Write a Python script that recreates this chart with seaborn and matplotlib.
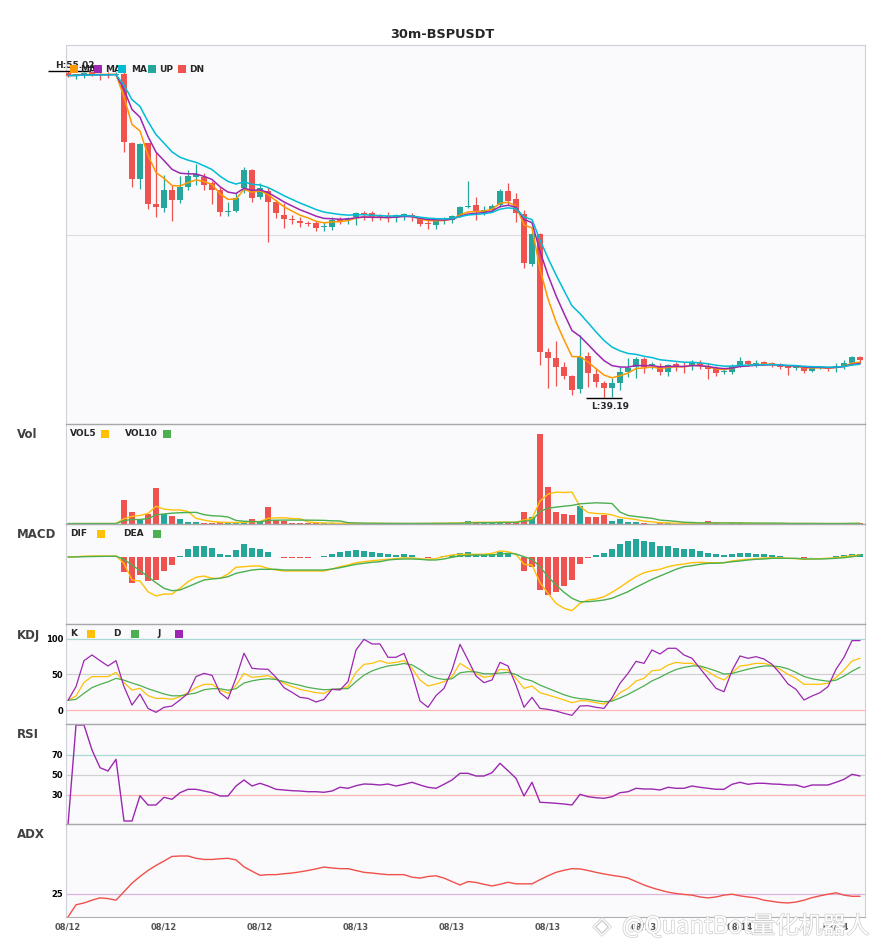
import numpy as np
import pandas as pd
import matplotlib
matplotlib.use("Agg")
import matplotlib.pyplot as plt
import matplotlib.patheffects as pe
from matplotlib.patches import Rectangle
import seaborn as sns

# ---- data (30m candles, 100 bars) ----
title = "30m-BSPUSDT"
xtick_labels = ["08/12", "08/12", "08/12", "08/13", "08/13", "08/13", "08/13", "08/14", "08/14"]
ma_spans = [5, 8, 12]

opens = [
    54.91, 54.82, 54.84, 54.99, 54.90, 54.90, 54.82, 54.88, 51.52, 49.81,
    51.52, 48.59, 48.41, 49.26, 48.78, 49.42, 49.91, 49.91, 49.59, 49.26,
    48.18, 48.26, 49.35, 50.23, 48.94, 49.23, 48.70, 48.05, 47.85, 47.76,
    47.66, 47.68, 47.48, 47.49, 47.86, 47.81, 47.97, 48.17, 48.17, 48.05,
    48.00, 47.92, 47.97, 48.05, 47.85, 47.66, 47.57, 47.77, 47.81, 48.00,
    48.44, 48.54, 48.17, 48.30, 48.54, 49.22, 48.83, 48.10, 45.68, 47.13,
    41.41, 41.12, 40.68, 40.26, 39.62, 41.23, 40.34, 39.91, 39.70, 39.91,
    40.47, 40.71, 41.07, 40.78, 40.76, 40.47, 40.82, 40.76, 40.74, 40.87,
    40.76, 40.63, 40.45, 40.47, 40.79, 40.99, 40.83, 40.95, 40.88, 40.79,
    40.74, 40.63, 40.71, 40.52, 40.66, 40.66, 40.66, 40.74, 40.87, 41.20]
highs = [
    55.02, 54.90, 54.95, 55.00, 54.92, 54.98, 54.95, 55.00, 51.60, 51.55,
    51.55, 51.12, 49.99, 49.51, 49.94, 50.23, 50.51, 50.07, 49.70, 49.42,
    48.70, 49.10, 50.36, 50.30, 49.59, 49.42, 48.80, 48.62, 48.05, 47.97,
    47.75, 47.75, 47.70, 47.94, 47.95, 47.94, 48.21, 48.24, 48.24, 48.10,
    48.21, 48.10, 48.13, 48.13, 47.97, 47.81, 47.86, 47.97, 48.05, 48.50,
    49.71, 48.94, 48.50, 48.59, 49.30, 49.62, 49.10, 48.30, 47.25, 47.20,
    41.60, 41.96, 40.95, 40.30, 42.25, 41.40, 40.66, 40.00, 40.15, 40.71,
    41.12, 41.20, 41.20, 40.95, 40.90, 40.85, 40.92, 40.92, 41.04, 41.04,
    40.87, 40.76, 40.60, 40.86, 41.20, 41.04, 41.04, 40.99, 40.95, 40.87,
    40.80, 40.80, 40.79, 40.70, 40.74, 40.72, 40.88, 41.04, 41.24, 41.22]
lows = [
    54.75, 54.64, 54.70, 54.80, 54.58, 54.70, 54.78, 51.12, 49.42, 49.30,
    48.33, 47.97, 48.18, 47.78, 48.62, 49.26, 49.50, 49.26, 48.57, 48.01,
    48.02, 48.20, 49.10, 48.70, 48.85, 46.76, 47.89, 47.41, 47.62, 47.46,
    47.51, 47.29, 47.30, 47.33, 47.60, 47.60, 47.57, 47.81, 47.78, 47.81,
    47.73, 47.73, 47.80, 47.75, 47.50, 47.38, 47.38, 47.64, 47.65, 47.95,
    48.38, 47.81, 48.05, 48.20, 48.44, 48.54, 47.73, 45.50, 45.58, 40.79,
    39.70, 39.78, 40.12, 39.34, 39.42, 39.71, 39.71, 39.19, 39.25, 39.58,
    40.23, 40.18, 40.40, 40.60, 40.30, 40.26, 40.50, 40.40, 40.55, 40.60,
    40.10, 40.26, 40.34, 40.37, 40.72, 40.76, 40.70, 40.80, 40.70, 40.60,
    40.31, 40.55, 40.42, 40.45, 40.60, 40.50, 40.47, 40.60, 40.80, 40.90]
closes = [
    54.80, 54.84, 54.91, 54.88, 54.84, 54.85, 54.88, 51.57, 49.78, 51.49,
    48.57, 48.46, 49.26, 48.78, 49.42, 49.94, 50.02, 49.51, 49.26, 48.18,
    48.26, 48.86, 50.23, 48.89, 49.35, 48.70, 48.14, 47.86, 47.83, 47.65,
    47.64, 47.44, 47.51, 47.81, 47.76, 47.89, 48.14, 48.09, 47.89, 47.94,
    47.89, 48.03, 48.09, 47.94, 47.62, 47.63, 47.76, 47.79, 48.00, 48.46,
    48.49, 48.25, 48.30, 48.49, 49.22, 48.75, 48.14, 45.75, 47.13, 41.44,
    41.12, 40.68, 40.26, 39.58, 41.20, 40.42, 39.96, 39.70, 39.91, 40.47,
    40.66, 41.07, 40.71, 40.80, 40.47, 40.79, 40.76, 40.70, 40.92, 40.74,
    40.59, 40.42, 40.49, 40.74, 40.99, 40.84, 40.90, 40.84, 40.85, 40.71,
    40.66, 40.71, 40.52, 40.63, 40.67, 40.60, 40.74, 40.87, 41.17, 41.04]
volumes = [
    0.4, 0.5, 0.4, 0.5, 0.6, 0.4, 0.4, 24.3, 12.3, 5.3,
    10.3, 36.3, 10.0, 8.3, 5.3, 2.3, 2.3, 1.3, 1.3, 1.7,
    1.3, 1.7, 2.0, 5.3, 2.0, 17.3, 4.0, 2.7, 1.3, 1.3,
    0.8, 0.9, 0.6, 0.8, 0.5, 0.6, 0.9, 0.5, 0.6, 0.4,
    0.5, 0.4, 0.5, 0.5, 0.9, 0.6, 1.3, 0.6, 1.3, 1.0,
    3.3, 2.3, 1.0, 1.0, 2.3, 2.3, 2.3, 12.3, 7.3, 90.3,
    37.3, 12.3, 10.3, 9.3, 18.3, 7.3, 7.3, 9.3, 3.3, 5.3,
    2.3, 2.3, 0.7, 0.5, 0.7, 1.5, 0.5, 0.6, 0.8, 0.6,
    3.3, 0.9, 0.4, 0.7, 0.8, 0.5, 0.5, 0.4, 0.4, 0.5,
    0.8, 0.4, 0.6, 0.4, 0.3, 0.4, 0.5, 0.6, 1.3, 0.6]

dif = [
    0.0, 0.3, 0.8, 1.0, 1.0, 0.9, 1.0, -6.3, -23.0, -24.0,
    -34.7, -39.0, -37.0, -37.0, -31.3, -24.7, -20.3, -19.0, -21.3, -21.3,
    -17.0, -10.3, -9.7, -9.0, -9.0, -11.3, -13.0, -14.0, -14.0, -14.0,
    -14.0, -14.0, -14.0, -12.0, -9.7, -8.0, -5.7, -4.7, -3.7, -3.0,
    -2.3, -1.7, -0.7, -1.0, -1.7, -2.3, -1.5, 0.5, 2.0, 2.7,
    2.7, 2.7, 2.7, 3.7, 6.0, 5.3, 2.7, -7.3, -8.0, -25.7,
    -36.3, -46.3, -51.3, -53.7, -46.3, -43.0, -42.0, -39.7, -35.3, -30.3,
    -24.7, -19.7, -15.7, -13.7, -12.3, -9.7, -8.0, -7.0, -5.7, -5.3,
    -5.7, -5.7, -5.7, -4.0, -3.0, -2.3, -1.7, -1.0, -0.7, -0.7,
    -1.3, -1.7, -2.3, -1.7, -1.7, -1.3, -0.7, 0.3, 1.3, 2.0]
dea = [
    0.0, 0.1, 0.3, 0.5, 0.6, 0.7, 0.8, -2.3, -8.0, -13.7,
    -19.7, -25.7, -31.3, -33.7, -33.0, -29.7, -26.3, -23.0, -22.0, -21.3,
    -19.7, -16.3, -14.7, -13.0, -12.3, -12.3, -12.3, -13.0, -13.0, -13.0,
    -13.0, -13.0, -13.0, -12.0, -10.7, -9.0, -7.3, -6.3, -5.3, -4.7,
    -3.0, -2.3, -2.0, -2.0, -2.3, -3.0, -3.0, -2.0, -0.3, 1.0,
    1.7, 2.0, 2.0, 2.0, 3.0, 3.7, 3.0, 0.3, -2.3, -9.7,
    -19.7, -28.0, -35.3, -41.3, -44.7, -44.7, -44.0, -43.0, -41.3, -38.0,
    -34.7, -30.3, -26.3, -22.3, -19.0, -15.7, -12.3, -9.7, -8.7, -7.3,
    -6.3, -6.3, -5.7, -4.7, -4.0, -3.0, -2.3, -2.0, -1.3, -1.3,
    -1.3, -1.3, -2.0, -2.0, -2.0, -1.7, -1.3, -0.7, 0.3, 1.3]
macd_hist = [
    0.0, 0.2, 0.5, 0.5, 0.4, 0.2, 0.3, -14.7, -26.0, -18.3,
    -24.3, -23.3, -14.3, -8.3, 1.0, 8.0, 11.0, 11.0, 9.3, 3.0,
    2.0, 7.0, 13.0, 9.3, 7.7, 5.0, 0.3, -1.3, -1.3, -1.3,
    -0.7, -0.3, 0.7, 3.0, 5.0, 6.0, 7.0, 6.0, 5.0, 4.0,
    3.0, 2.0, 3.0, 2.0, 0.3, -0.7, 0.3, 1.0, 2.0, 3.7,
    4.7, 2.7, 2.7, 2.7, 5.3, 3.7, -0.3, -13.7, -9.7, -33.0,
    -38.0, -34.7, -28.7, -23.0, -7.0, -0.7, 2.0, 4.3, 8.0, 13.0,
    16.0, 18.0, 16.0, 14.7, 11.0, 11.0, 9.3, 8.0, 8.0, 6.0,
    3.7, 2.7, 2.0, 3.0, 4.3, 4.3, 3.0, 3.0, 2.0, 1.0,
    0.2, 0.2, -0.7, 0.2, 0.2, 0.3, 1.3, 2.0, 3.0, 3.0]

k_vals = [
    13.6, 19.7, 39.0, 47.0, 47.0, 47.0, 53.0, 38.5, 28.2, 30.5,
    20.2, 16.4, 16.4, 15.0, 18.8, 24.4, 31.5, 36.2, 36.2, 28.2,
    23.5, 35.0, 51.6, 46.0, 47.0, 48.4, 43.7, 37.6, 32.9, 29.1,
    26.8, 24.4, 23.5, 29.1, 29.1, 32.9, 53.0, 64.3, 65.7, 69.5,
    65.7, 67.1, 69.5, 58.7, 42.3, 33.8, 36.6, 39.9, 47.0, 65.7,
    58.7, 51.6, 46.0, 47.9, 57.3, 56.3, 44.6, 30.5, 33.8, 24.4,
    21.1, 17.8, 14.1, 10.3, 13.1, 12.7, 10.3, 8.5, 14.0, 24.4,
    30.5, 40.8, 44.6, 55.4, 56.3, 63.4, 67.1, 65.7, 65.7, 61.0,
    54.0, 47.0, 42.3, 52.6, 62.0, 63.4, 65.7, 65.7, 62.4, 57.3,
    50.2, 44.6, 36.2, 36.2, 36.2, 37.6, 46.0, 56.3, 69.0, 72.8]
d_vals = [
    13.6, 15.0, 23.5, 31.5, 36.0, 39.7, 44.6, 42.0, 38.0, 34.5,
    30.0, 26.3, 22.6, 20.0, 20.0, 22.0, 24.0, 28.5, 30.0, 30.0,
    27.8, 30.0, 38.0, 41.0, 43.0, 44.0, 43.0, 40.0, 37.2, 34.7,
    31.8, 30.0, 28.5, 29.1, 30.0, 30.0, 40.0, 49.0, 55.0, 59.0,
    62.0, 63.5, 65.5, 63.5, 57.0, 49.0, 45.0, 43.0, 44.0, 52.4,
    54.0, 53.6, 51.0, 51.0, 52.0, 53.0, 50.0, 43.8, 41.0, 35.0,
    30.5, 26.0, 21.5, 18.0, 16.0, 15.0, 13.0, 11.7, 12.5, 17.0,
    22.0, 28.0, 34.0, 41.0, 46.0, 52.0, 57.0, 60.0, 62.0, 62.0,
    58.7, 55.0, 50.6, 51.4, 54.5, 57.5, 60.0, 62.0, 62.0, 61.0,
    58.0, 53.0, 47.2, 44.0, 42.1, 40.5, 42.0, 47.5, 54.6, 60.3]
j_vals = [
    13.6, 32.9, 69.5, 77.5, 69.5, 62.0, 69.5, 32.9, 7.0, 22.5,
    2.3, -3.3, 3.8, 5.6, 14.1, 23.5, 47.0, 51.6, 48.8, 24.4,
    15.5, 45.0, 80.0, 58.7, 57.7, 57.3, 46.0, 31.5, 24.9, 17.8,
    16.4, 11.3, 15.0, 29.1, 28.2, 39.9, 84.5, 99.5, 93.0, 93.0,
    74.2, 74.2, 79.8, 51.6, 12.7, 3.8, 20.2, 30.5, 56.3, 92.5,
    70.4, 47.9, 38.5, 42.3, 67.1, 62.0, 35.2, 3.8, 17.8, 2.3,
    0.9, -1.4, -4.7, -7.5, 5.6, 6.1, 3.8, 2.3, 17.0, 37.6,
    51.6, 68.5, 65.7, 84.5, 78.9, 86.9, 86.9, 77.5, 72.8, 58.7,
    44.6, 30.5, 25.8, 55.4, 76.1, 72.8, 75.1, 71.8, 64.3, 51.6,
    36.6, 29.1, 14.1, 19.7, 24.4, 32.9, 57.3, 74.2, 97.7, 97.7]
rsi_vals = [
    0.0, 100.0, 100.0, 75.0, 57.3, 54.0, 65.7, 4.0, 4.0, 29.3,
    20.0, 20.0, 27.7, 25.7, 32.3, 35.7, 35.7, 34.0, 32.3, 29.0,
    29.0, 39.0, 45.0, 39.0, 41.7, 39.0, 35.7, 35.0, 34.3, 34.0,
    33.3, 33.3, 32.7, 34.0, 37.7, 36.7, 39.3, 41.0, 40.7, 40.0,
    41.0, 39.0, 40.7, 42.7, 40.0, 37.7, 36.7, 40.7, 45.0, 51.7,
    51.7, 49.0, 49.0, 52.3, 61.7, 54.3, 46.7, 29.0, 42.7, 22.7,
    22.3, 21.7, 21.0, 20.0, 30.7, 28.3, 27.3, 26.7, 28.3, 32.3,
    33.3, 36.7, 36.0, 36.0, 35.0, 37.7, 36.7, 36.7, 39.0, 37.7,
    36.7, 35.7, 35.7, 40.7, 42.7, 40.7, 41.7, 41.7, 41.0, 40.7,
    40.0, 40.0, 37.7, 40.0, 40.0, 40.0, 42.7, 45.7, 50.7, 49.0]
adx_vals = [
    15.0, 20.3, 21.1, 22.3, 23.3, 23.0, 22.3, 26.0, 29.7, 32.6,
    35.2, 37.4, 39.3, 41.3, 41.5, 41.5, 40.5, 40.0, 40.0, 40.3,
    40.5, 39.8, 36.8, 34.9, 33.1, 33.4, 33.4, 33.8, 34.1, 34.6,
    35.2, 35.9, 36.7, 36.3, 36.0, 36.0, 35.2, 34.4, 34.1, 33.7,
    33.4, 33.4, 33.4, 32.3, 31.9, 32.6, 32.9, 31.9, 30.4, 28.9,
    30.4, 30.0, 29.2, 28.5, 29.2, 30.1, 29.4, 29.4, 29.4, 31.2,
    32.9, 34.4, 35.3, 36.0, 35.9, 35.2, 34.4, 33.7, 33.1, 32.6,
    31.9, 30.4, 28.9, 27.7, 26.7, 25.8, 25.2, 24.8, 24.5, 23.7,
    23.3, 23.7, 24.5, 24.9, 24.2, 23.7, 23.3, 22.3, 21.8, 21.3,
    21.1, 21.5, 22.3, 23.4, 24.2, 24.9, 25.5, 24.5, 24.0, 24.0]

# ---- colours ----
UP, DN = "#26a69a", "#ef5350"
MA_COLS = ["#ff9800", "#9c27b0", "#00bcd4"]
AMBER, GREEN, PURPLE = "#ffc107", "#4caf50", "#9c27b0"
BG = "#fafafc"

sns.set_theme(style="white")
plt.rcParams["font.family"] = ["DejaVu Sans", "Noto Sans CJK SC"]

FW, FH = 885, 950
fig = plt.figure(figsize=(FW / 100, FH / 100), dpi=100)
fig.patch.set_facecolor("white")


def px_axes(top, bottom):
    return fig.add_axes([66 / FW, 1 - bottom / FH, 799 / FW, (bottom - top) / FH])


ax_main = px_axes(45, 424)
ax_vol = px_axes(424, 524)
ax_macd = px_axes(524, 624)
ax_kdj = px_axes(624, 724)
ax_rsi = px_axes(724, 824)
ax_adx = px_axes(824, 917)
lower = [ax_vol, ax_macd, ax_kdj, ax_rsi, ax_adx]

n = len(closes)
x = np.arange(n)
o, h, l, c = (np.array(a) for a in (opens, highs, lows, closes))
candle_cols = np.where(c >= o, UP, DN)

# ---- price panel ----
ax = ax_main
ax.vlines(x, l, h, colors=candle_cols, lw=0.9, zorder=2)
ax.bar(x, np.maximum(np.abs(c - o), 0.05), bottom=np.minimum(o, c), width=0.75,
       color=candle_cols, linewidth=0, zorder=3)
close_s = pd.Series(closes)
for span, col in zip(ma_spans, MA_COLS):
    sns.lineplot(x=x, y=close_s.ewm(span=span, adjust=False).mean().values, ax=ax,
                 color=col, lw=1.1, zorder=4)

hi_i, lo_i = int(np.argmax(h)), int(np.argmin(l))
ax.hlines(h[hi_i], hi_i - 2.5, hi_i + 2.5, color="black", lw=1, clip_on=False, zorder=5)
ax.annotate(f"H:{h[hi_i]:.2f}", (hi_i + 0.9, h[hi_i]), xytext=(0, 2.5),
            textcoords="offset points", ha="center", va="baseline",
            fontsize=6.5, fontweight="bold", annotation_clip=False, zorder=6)
ax.hlines(l[lo_i], lo_i - 2.3, lo_i + 2.3, color="black", lw=1, zorder=5)
ax.annotate(f"L:{l[lo_i]:.2f}", (lo_i + 0.8, l[lo_i]), xytext=(0, -3),
            textcoords="offset points", ha="center", va="top",
            fontsize=6.5, fontweight="bold", zorder=6)
ax.set_ylim(37.94, 56.28)
ax.set_yticks([sum(ax.get_ylim()) / 2])
ax.yaxis.grid(True, color="#dcdce4", lw=0.8)

# ---- volume panel ----
ax_vol.bar(x, volumes, width=0.75, color=candle_cols, linewidth=0)
vol_s = pd.Series(volumes)
sns.lineplot(x=x, y=vol_s.rolling(5, min_periods=1).mean().values, ax=ax_vol, color=AMBER, lw=1.0)
sns.lineplot(x=x, y=vol_s.rolling(10, min_periods=1).mean().values, ax=ax_vol, color=GREEN, lw=1.0)
ax_vol.set_ylim(0, 100)

# ---- MACD panel ----
hist = np.array(macd_hist)
ax_macd.bar(x, hist, width=0.75, color=np.where(hist >= 0, UP, DN), linewidth=0)
sns.lineplot(x=x, y=dif, ax=ax_macd, color=AMBER, lw=1.0)
sns.lineplot(x=x, y=dea, ax=ax_macd, color=GREEN, lw=1.0)
ax_macd.set_ylim(-67, 33)

# ---- KDJ panel ----
for lvl, col in [(100, "#a9d9d5"), (50, "#cfcfcf"), (0, "#ffb3b3")]:
    ax_kdj.axhline(lvl, color=col, lw=0.9, zorder=1)
sns.lineplot(x=x, y=k_vals, ax=ax_kdj, color=AMBER, lw=0.9)
sns.lineplot(x=x, y=d_vals, ax=ax_kdj, color=GREEN, lw=0.9)
sns.lineplot(x=x, y=j_vals, ax=ax_kdj, color=PURPLE, lw=0.9)
ax_kdj.set_ylim(-19.7, 121.1)
ax_kdj.set_yticks([0, 50, 100])

# ---- RSI panel ----
for lvl, col in [(70, "#a9d9d5"), (50, "#cfcfcf"), (30, "#ffb3b3")]:
    ax_rsi.axhline(lvl, color=col, lw=0.9, zorder=1)
sns.lineplot(x=x, y=rsi_vals, ax=ax_rsi, color=PURPLE, lw=1.0)
ax_rsi.set_ylim(1, 101)
ax_rsi.set_yticks([30, 50, 70])

# ---- ADX panel ----
ax_adx.axhline(25, color="#dcb4e0", lw=0.9, zorder=1)
sns.lineplot(x=x, y=adx_vals, ax=ax_adx, color="#f0504a", lw=1.0)
ax_adx.set_ylim(15, 55.4)
ax_adx.set_yticks([25])

# ---- common axis styling ----
for a in [ax_main] + lower:
    a.set_facecolor(BG)
    a.set_xlim(-0.25, 99.625)
    a.set_xlabel("")
    a.set_ylabel("")
    a.tick_params(length=0, pad=2)
    for s in a.spines.values():
        s.set_color("#d0d0d8")
        s.set_linewidth(0.8)
    a.set_xticks([])
    for lab in a.get_yticklabels():
        lab.set_fontsize(6)
        lab.set_fontweight("bold")
        lab.set_color("black")
ax_main.tick_params(labelleft=False)
ax_vol.set_yticks([])
ax_macd.set_yticks([])
ax_main.spines["bottom"].set_visible(False)
for a in lower:
    a.spines["top"].set_color("#a8a8a8")
    a.spines["top"].set_linewidth(1.0)
ax_adx.spines["bottom"].set_color("#b0b0b0")
ax_adx.set_xticks(range(0, n, 12))
ax_adx.set_xticklabels(xtick_labels, fontsize=6, fontweight="bold", color="#555555")
ax_adx.tick_params(axis="x", pad=4)


# ---- figure-level text and legend keys ----
def key(px, py, color, size=7.6):
    fig.add_artist(Rectangle((px / FW, 1 - (py + size / 2) / FH), size / FW, size / FH,
                             transform=fig.transFigure, facecolor=color,
                             edgecolor="none", zorder=4))


def label(px, py, text, size=6.5, **kw):
    fig.text(px / FW, 1 - py / FH, text, ha="left", va="center",
             fontsize=size, fontweight="bold", **kw)


fig.text(0.5, 1 - 34 / FH, title, ha="center", va="center", fontsize=9.3, fontweight="bold")

for name, py in [("Vol", 434), ("MACD", 534), ("KDJ", 635), ("RSI", 735), ("ADX", 835)]:
    label(17, py, name, size=8.5, color="#404040")

# main legend (keys sit on top of labels, as in the source)
for sq, tx, col, txt in [(70, 80, MA_COLS[0], "MA"), (94, 105, MA_COLS[1], "MA"),
                         (118, 131, MA_COLS[2], "MA"), (148, 159, UP, "UP"), (178, 189, DN, "DN")]:
    key(sq, 69, col)
    label(tx, 69, txt)

for tx, sq, col, txt in [(70, 101, AMBER, "VOL5"), (125, 163, GREEN, "VOL10")]:
    label(tx, 434, txt)
    key(sq, 434, col)
for tx, sq, col, txt in [(70, 97, AMBER, "DIF"), (123, 153, GREEN, "DEA")]:
    label(tx, 534, txt)
    key(sq, 534, col)
for tx, sq, col, txt in [(70, 87, AMBER, "K"), (113, 131, GREEN, "D"), (157, 175, PURPLE, "J")]:
    label(tx, 634, txt)
    key(sq, 634, col)

# watermark (overlays the last tick labels, as in the source image)
wm = [pe.withStroke(linewidth=1.0, foreground="#cdcdcd")]
fig.text(602 / FW, 1 - 926 / FH, "◈", ha="center", va="center", fontsize=17,
         color="white", path_effects=wm, zorder=10)
fig.text(622 / FW, 1 - 926 / FH, "@QuantBot量化机器人", ha="left", va="center",
         fontsize=17, color="white", family=["Noto Sans CJK SC", "DejaVu Sans"],
         path_effects=wm, zorder=10)

fig.savefig("out.png", dpi=100, facecolor="white")
